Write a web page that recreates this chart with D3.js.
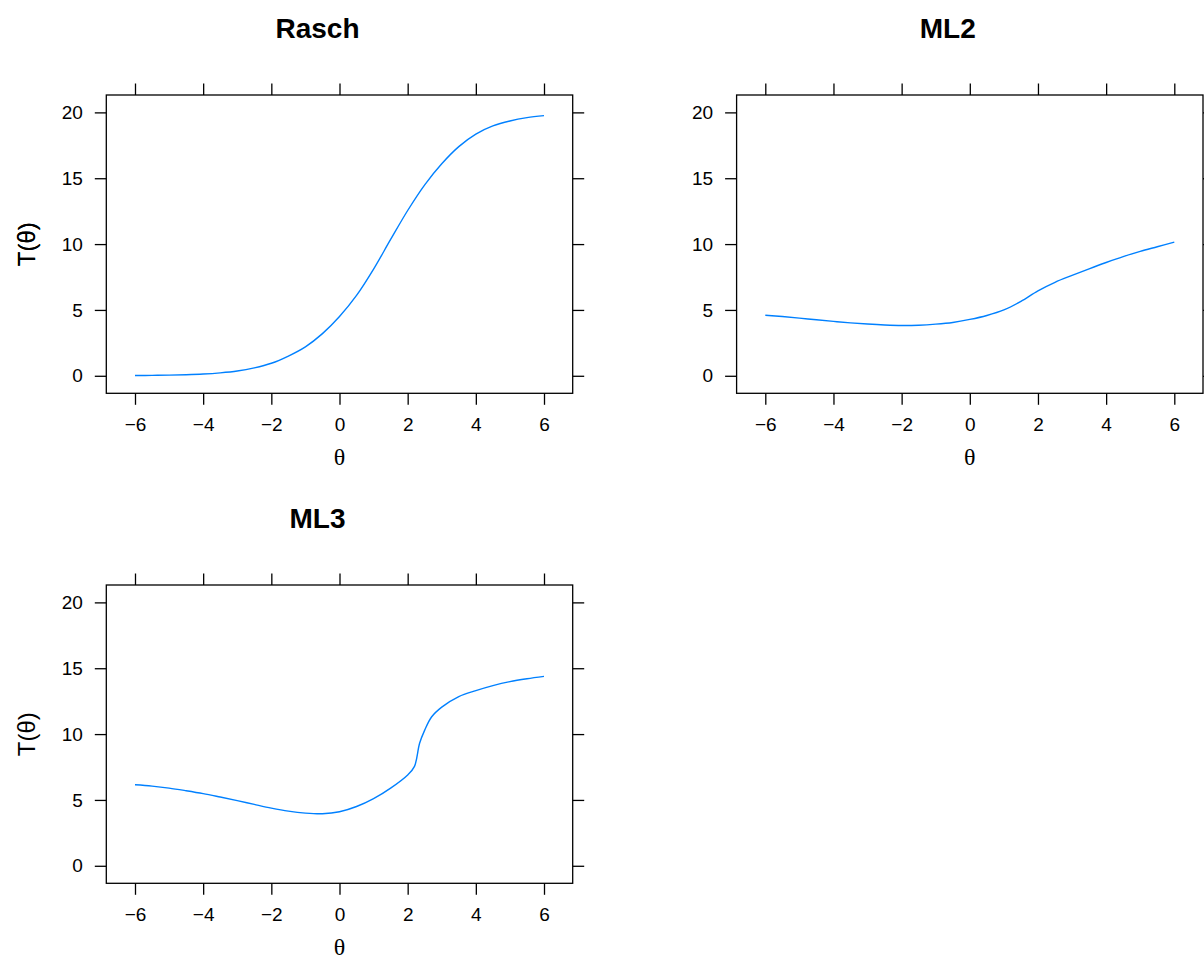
<!DOCTYPE html>
<html><head><meta charset="utf-8">
<script src="https://cdn.jsdelivr.net/npm/d3@7"></script>
<style>body{margin:0;background:#fff}svg{display:block}</style>
</head><body>
<svg id="c" width="1204" height="961"></svg>
<script>
// ---- data ----
const panelTitles = ["Rasch", "ML2", "ML3"];
const thetaGrid = [-6,-5.5,-5,-4.5,-4,-3.5,-3,-2.5,-2,-1.5,-1,-0.5,0,0.5,1,1.5,2,2.5,3,3.5,4,4.5,5,5.5,6];
const raschValues = [0.02,0.03,0.05,0.08,0.13,0.22,0.36,0.6,0.95,1.5,2.2,3.2,4.5,6.1,8.1,10.35,12.55,14.5,16.1,17.4,18.35,18.97,19.35,19.6,19.75];
const ml2Values = [4.6,4.5,4.38,4.25,4.13,4.02,3.93,3.86,3.82,3.84,3.92,4.05,4.28,4.58,5.0,5.65,6.45,7.1,7.62,8.12,8.6,9.05,9.45,9.8,10.15];
const ml3Theta = [-6,-5.5,-5,-4.5,-4,-3.5,-3,-2.5,-2,-1.5,-1,-0.5,0,0.5,1,1.5,2,2.2,2.35,2.5,2.7,3,3.5,4,4.5,5,5.5,6];
const ml3Values = [6.15,6.05,5.9,5.7,5.48,5.22,4.95,4.66,4.38,4.15,4.0,3.95,4.1,4.5,5.1,5.9,6.9,7.55,9.3,10.3,11.3,12.05,12.85,13.3,13.68,13.98,14.2,14.38];
const xTicks = [-6,-4,-2,0,2,4,6];
const yTicks = [0,5,10,15,20];
const xLabel = "θ";
const yLabel = "T(θ)";

const series = [
  {title: panelTitles[0], x: thetaGrid, y: raschValues},
  {title: panelTitles[1], x: thetaGrid, y: ml2Values},
  {title: panelTitles[2], x: ml3Theta, y: ml3Values}
];

// ---- layout ----
const boxW = 466.4, boxH = 298.3;
const origins = [[106.3, 95], [736.6, 95], [106.3, 585]];
const tickLen = 11.5;
const sans = "'Liberation Sans', Arial, Helvetica, sans-serif";

const svg = d3.select("#c");
const x = d3.scaleLinear().domain([-6.842, 6.842]).range([0, boxW]);
const y = d3.scaleLinear().domain([-1.33, 21.32]).range([boxH, 0]);

series.forEach((s, i) => {
  const [ox, oy] = origins[i];
  const g = svg.append("g").attr("transform", `translate(${ox},${oy})`);

  // axes
  const fmt = d3.format("d");
  const bottom = g.append("g").attr("transform", `translate(0,${boxH})`)
    .call(d3.axisBottom(x).tickValues(xTicks).tickFormat(fmt).tickSizeInner(tickLen).tickSizeOuter(0).tickPadding(9));
  const top = g.append("g").call(d3.axisTop(x).tickValues(xTicks).tickFormat("").tickSizeInner(tickLen).tickSizeOuter(0));
  const left = g.append("g").call(d3.axisLeft(y).tickValues(yTicks).tickFormat(fmt).tickSizeInner(tickLen).tickSizeOuter(0).tickPadding(12));
  const right = g.append("g").attr("transform", `translate(${boxW},0)`)
    .call(d3.axisRight(y).tickValues(yTicks).tickFormat("").tickSizeInner(tickLen).tickSizeOuter(0));
  [bottom, top, left, right].forEach(a => {
    a.select(".domain").remove();
    a.selectAll(".tick line").attr("stroke", "#000").attr("stroke-width", 1.3);
    a.selectAll("text").attr("fill", "#000").style("font-family", sans).style("font-size", "19px");
  });
  bottom.selectAll("text").attr("dy", "0.92em");

  // box
  g.append("rect").attr("x", 0).attr("y", 0).attr("width", boxW).attr("height", boxH)
    .attr("fill", "none").attr("stroke", "#000").attr("stroke-width", 1.3);

  // line
  const pts = s.x.map((v, k) => [v, s.y[k]]);
  g.append("path").datum(pts)
    .attr("fill", "none").attr("stroke", "#0080ff").attr("stroke-width", 1.4)
    .attr("d", d3.line().x(d => x(d[0])).y(d => y(d[1])).curve(d3.curveCatmullRom.alpha(0.5)));

  // title
  g.append("text").attr("x", boxW / 2 - 22).attr("y", -57)
    .attr("text-anchor", "middle").style("font-family", sans).style("font-weight", "bold").style("font-size", "28px")
    .text(s.title);

  // x label
  g.append("text").attr("x", boxW / 2).attr("y", boxH + 72)
    .attr("text-anchor", "middle").style("font-family", "'Liberation Serif', 'DejaVu Serif', serif").style("font-size", "24px")
    .text(xLabel);

  // y label
  g.append("text").attr("transform", `translate(${-ox + 35},${boxH / 2}) rotate(-90)`)
    .attr("text-anchor", "middle").style("font-family", sans).style("font-size", "24px")
    .text(yLabel);
});
</script>
</body></html>
